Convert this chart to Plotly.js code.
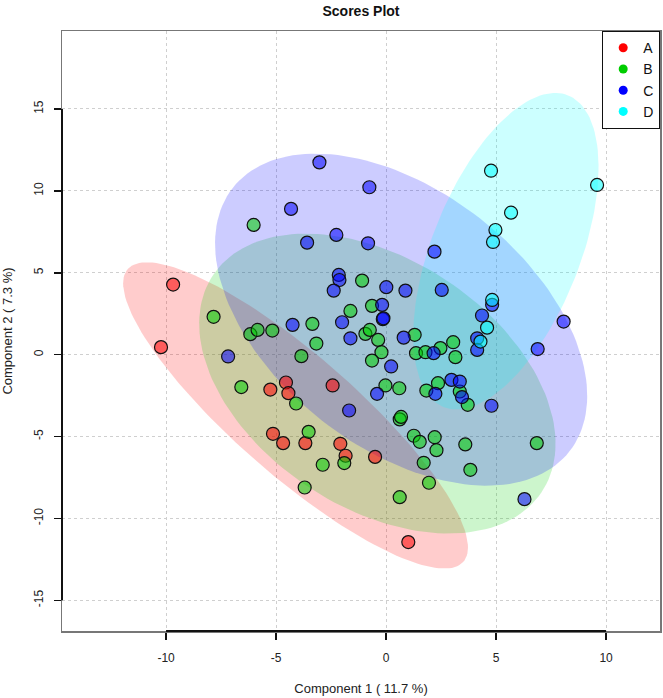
<!DOCTYPE html>
<html>
<head>
<meta charset="utf-8">
<script src="https://cdn.plot.ly/plotly-3.0.1.min.js"></script>
<style>
  html, body { margin: 0; padding: 0; background: #fff; }
  #plot { width: 663px; height: 698px; }
</style>
</head>
<body>
<div id="plot"></div>
<script>
// group labels and colours
const groups = ['A', 'B', 'C', 'D'];
const groupColors = ['#FF0000', '#00CD00', '#0000FF', '#00FFFF'];

// scores (component 1, component 2)
const aX = [-9.68, -10.23, -5.26, -4.55, -4.44, -2.43, -5.14, -4.68, -3.67, -2.08, -1.84, -0.50, 1.01];
const aY = [4.28, 0.46, -2.13, -1.70, -2.35, -1.88, -4.83, -5.40, -5.40, -5.44, -6.17, -6.24, -11.44];

const bX = [-7.84, -6.17, -5.84, -5.17, -3.35, -3.17, -3.85, -6.58, -4.09, -3.52, -1.90, -2.88, -3.70, -6.02,
            -1.09, -1.62, -0.64, -0.94, -0.74, -0.36, -0.21, -0.64, 1.30, 1.36, 1.79, 2.47, 3.05, 3.15,
            -0.03, 0.60, 1.83, 2.36, 3.35, 3.71, 0.62, 0.68, 1.26, 1.53, 2.21, 2.29, 3.60, 6.85, 1.71,
            3.83, 1.95, 0.62];
const bY = [2.31, 1.25, 1.51, 1.47, 1.88, 0.68, -0.09, -1.98, -2.98, -4.71, -6.62, -6.72, -8.11, 7.92,
            4.52, 2.67, 2.98, 1.27, 1.51, 0.90, 0.15, -0.36, 1.21, 0.09, 0.15, 0.40, 0.76, -0.15,
            -1.88, -2.05, -2.19, -1.74, -2.25, -3.06, -3.95, -3.80, -4.95, -5.32, -5.04, -5.83, -5.48, -5.40, -6.60,
            -7.03, -7.82, -8.70];

const cX = [-7.18, -4.25, -1.68, -3.03, -0.76, -4.32, -2.26, -3.59, -0.82, 2.20, -2.15, -2.12, -2.38, 0.01,
            0.88, 2.53, -0.18, -0.15, -0.12, -2.00, -1.62, 0.80, 0.23, 2.16, 4.82, 4.36, 4.14, 4.14,
            8.07, 6.89, -0.41, 2.24, 2.97, 3.35, 3.45, 4.79, 6.29];
const cY = [-0.11, 1.82, -3.41, 11.74, 10.22, 8.90, 7.31, 6.84, 6.80, 6.29, 4.87, 4.56, 3.91, 4.12,
            3.91, 3.95, 3.04, 2.17, 2.22, 1.98, 1.00, 1.04, -0.72, 0.09, 3.04, 2.39, 1.00, 0.29,
            2.02, 0.34, -2.39, -2.39, -1.54, -1.64, -2.59, -3.12, -8.82];

const dX = [4.77, 9.59, 5.68, 4.97, 4.86, 4.82, 4.59, 4.29];
const dY = [11.23, 10.36, 8.67, 7.61, 6.88, 3.34, 1.65, 0.80];

const xTicks = [-10, -5, 0, 5, 10];
const xTickLabels = ['-10', '-5', '0', '5', '10'];
const yTicks = [-15, -10, -5, 0, 5, 10, 15];
const yTickLabels = ['-15', '-10', '-5', '0', '5', '10', '15'];

const seriesX = [aX, bX, cX, dX];
const seriesY = [aY, bY, cY, dY];

function hexToRgba(hex, a) {
  const n = parseInt(hex.slice(1), 16);
  return 'rgba(' + ((n >> 16) & 255) + ',' + ((n >> 8) & 255) + ',' + (n & 255) + ',' + a + ')';
}

// 95% data ellipse from the group's mean and covariance
function ellipse(xs, ys) {
  const n = xs.length;
  const mx = xs.reduce((s, v) => s + v, 0) / n;
  const my = ys.reduce((s, v) => s + v, 0) / n;
  let sxx = 0, syy = 0, sxy = 0;
  for (let i = 0; i < n; i++) {
    sxx += (xs[i] - mx) * (xs[i] - mx);
    syy += (ys[i] - my) * (ys[i] - my);
    sxy += (xs[i] - mx) * (ys[i] - my);
  }
  sxx /= n - 1; syy /= n - 1; sxy /= n - 1;
  const half = (sxx + syy) / 2;
  const root = Math.sqrt(Math.pow((sxx - syy) / 2, 2) + sxy * sxy);
  const l1 = half + root, l2 = half - root;
  let vx = sxy, vy = l1 - sxx;
  if (Math.abs(vx) < 1e-12 && Math.abs(vy) < 1e-12) { vx = 1; vy = 0; }
  const len = Math.hypot(vx, vy);
  vx /= len; vy /= len;
  const t = Math.sqrt(-2 * Math.log(0.05));
  const ex = [], ey = [];
  for (let k = 0; k <= 160; k++) {
    const th = 2 * Math.PI * k / 160;
    const a = t * Math.sqrt(l1) * Math.cos(th);
    const b = t * Math.sqrt(Math.max(l2, 0)) * Math.sin(th);
    ex.push(mx + a * vx - b * vy);
    ey.push(my + a * vy + b * vx);
  }
  return { x: ex, y: ey };
}

const traces = [];

groups.forEach((g, i) => {
  const e = ellipse(seriesX[i], seriesY[i]);
  traces.push({
    x: e.x, y: e.y,
    type: 'scatter', mode: 'lines',
    fill: 'toself',
    fillcolor: hexToRgba(groupColors[i], 0.2),
    line: { width: 0, color: 'rgba(0,0,0,0)' },
    hoverinfo: 'skip', showlegend: false
  });
});

groups.forEach((g, i) => {
  traces.push({
    x: seriesX[i], y: seriesY[i],
    type: 'scatter', mode: 'markers', name: g,
    marker: { size: 13, color: hexToRgba(groupColors[i], 0.55), line: { color: '#111', width: 1.2 } },
    showlegend: false
  });
});

// legend entries with solid dots
groups.forEach((g, i) => {
  traces.push({
    x: [null], y: [null],
    type: 'scatter', mode: 'markers', name: g,
    marker: { size: 9, color: groupColors[i] },
    showlegend: true
  });
});

const axisFont = { family: 'Liberation Sans, Arial, sans-serif', size: 12, color: '#222' };

const layout = {
  width: 663,
  height: 698,
  margin: { l: 62, r: 3, t: 31, b: 67 },
  paper_bgcolor: '#fff',
  plot_bgcolor: '#fff',
  font: axisFont,
  title: {
    text: '<b>Scores Plot</b>',
    font: { family: 'Liberation Sans, Arial, sans-serif', size: 14, color: '#111' },
    x: 0.5, xref: 'paper', xanchor: 'center',
    y: 1 - 11 / 698, yanchor: 'middle'
  },
  xaxis: {
    range: [-14.73, 12.45],
    tickvals: xTicks, ticktext: xTickLabels,
    ticks: 'outside', ticklen: 7, tickwidth: 1.5, tickcolor: '#111',
    ticklabelstandoff: 8,
    showgrid: true, gridcolor: '#cfcfcf', griddash: 'dot', gridwidth: 1,
    zeroline: false,
    showline: true, mirror: true, linecolor: '#777', linewidth: 1.5,
    tickfont: axisFont,
    title: { text: 'Component 1 ( 11.7 %)', font: { family: 'Liberation Sans, Arial, sans-serif', size: 13, color: '#222' }, standoff: 20 }
  },
  yaxis: {
    range: [-16.87, 19.76],
    tickvals: yTicks, ticktext: yTickLabels,
    tickangle: -90,
    ticks: 'outside', ticklen: 7, tickwidth: 1.5, tickcolor: '#111',
    ticklabelstandoff: 6,
    showgrid: true, gridcolor: '#cfcfcf', griddash: 'dot', gridwidth: 1,
    zeroline: false,
    showline: true, mirror: true, linecolor: '#777', linewidth: 1.5,
    tickfont: axisFont,
    title: { text: 'Component 2 ( 7.3 %)', font: { family: 'Liberation Sans, Arial, sans-serif', size: 13, color: '#222' }, standoff: 16 }
  },
  legend: {
    x: 1, xanchor: 'right', y: 1, yanchor: 'top',
    bgcolor: '#fff', bordercolor: '#111', borderwidth: 1.2,
    font: { family: 'Liberation Sans, Arial, sans-serif', size: 14, color: '#111' },
    itemwidth: 30, tracegroupgap: 0
  },
  shapes: [
    { type: 'line', xref: 'x', yref: 'paper', x0: xTicks[0], x1: xTicks[xTicks.length - 1], y0: 0, y1: 0,
      line: { color: '#111', width: 2 } },
    { type: 'line', xref: 'paper', yref: 'y', x0: 0, x1: 0, y0: yTicks[0], y1: yTicks[yTicks.length - 1],
      line: { color: '#111', width: 2 } }
  ],
  showlegend: true,
  hovermode: false
};

Plotly.newPlot('plot', traces, layout, { displayModeBar: false, staticPlot: true });
</script>
</body>
</html>
